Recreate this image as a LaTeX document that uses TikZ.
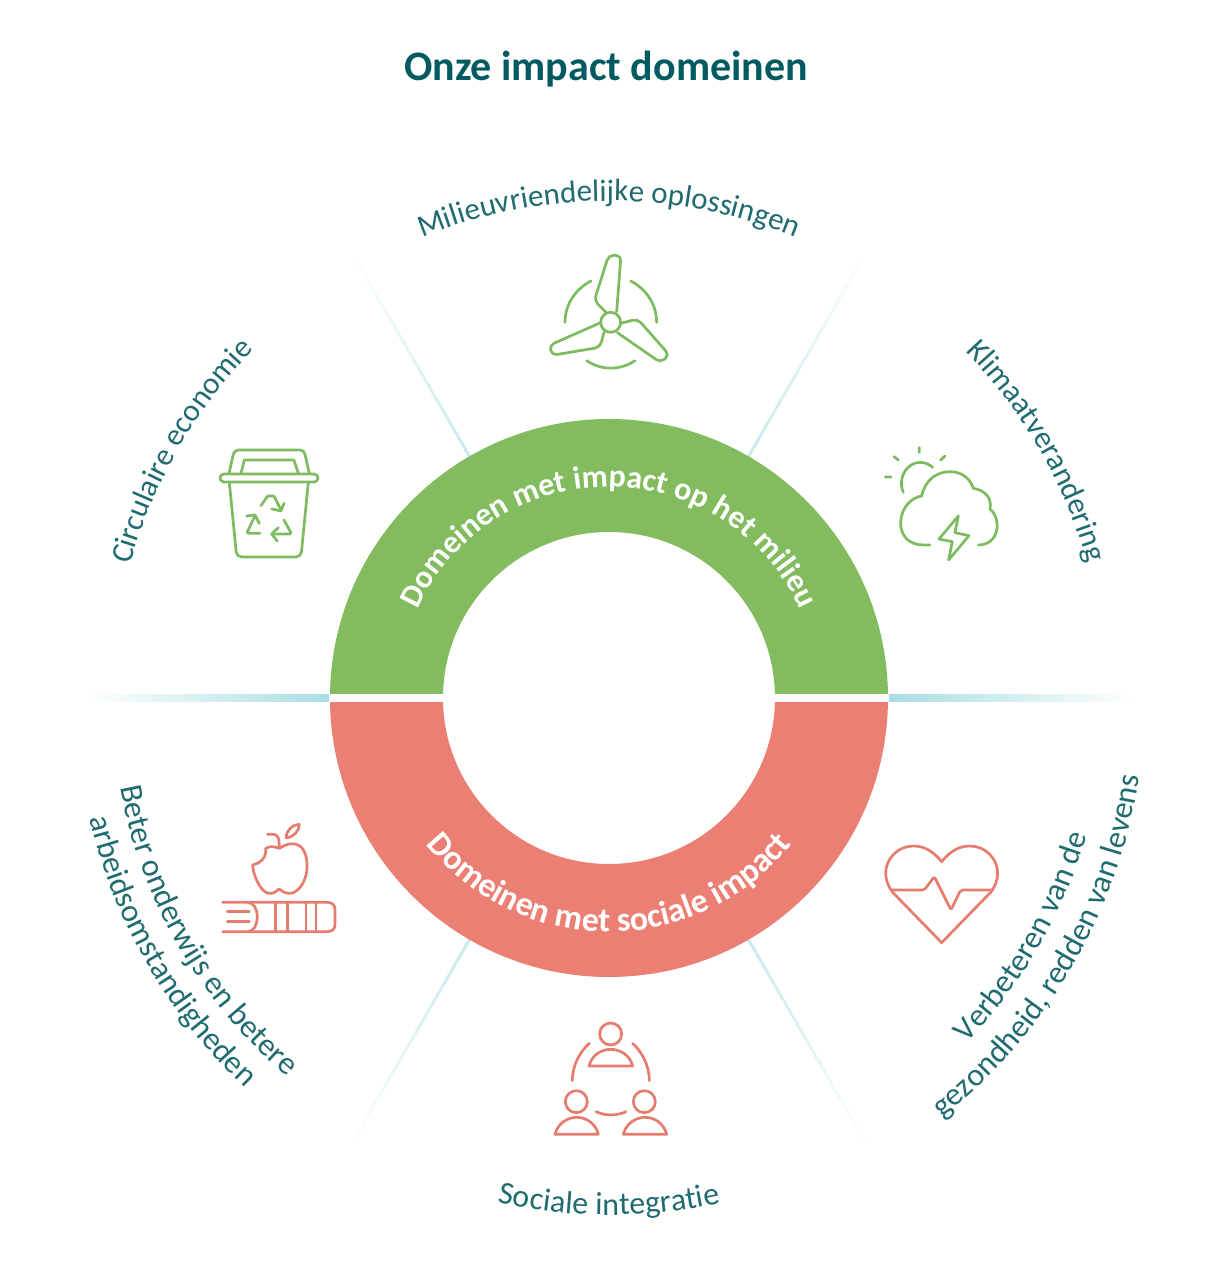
\documentclass[tikz,border=0pt]{standalone}
\usepackage{fontspec}
\usepackage{xcolor}
\setmainfont{Carlito}
\usetikzlibrary{decorations.text}

\definecolor{titleteal}{HTML}{005A5F}
\definecolor{labelteal}{HTML}{1F6B70}
\definecolor{ringgreen}{HTML}{82BC5F}
\definecolor{ringred}{HTML}{EC7F73}
\definecolor{icongreen}{HTML}{7DBB60}
\definecolor{iconred}{HTML}{E67C6E}
\definecolor{spoke}{HTML}{A9DEE0}
\newcommand{\labelfont}[1]{\fontsize{#1}{#1}\selectfont\color{labelteal}}
\newcommand{\ringfont}[1]{\fontsize{#1}{#1}\selectfont\bfseries\color{white}}

\begin{document}
\begin{tikzpicture}[x=1pt, y=1pt,
    arclabel/.style 2 args={decorate, decoration={text along path, text align=center, text={|\labelfont{#1}|#2}}},
    arcring/.style 2 args={decorate, decoration={text along path, text align=center, text={|\ringfont{#1}|#2}}},
    icn/.style={line width=2.7pt, line cap=round, line join=round, draw=#1},
    greenicon/.style={shift={#1}, x=0.3333pt, y=-0.3333pt, icn=icongreen},
    redicon/.style={shift={#1}, x=0.3333pt, y=-0.3333pt, icn=iconred}]
    \useasboundingbox (-609,-582) rectangle (602,698);

    % spokes
    \foreach \a in {60,120,240,300} {
        \shade[transform canvas={rotate=\a}, left color=spoke!65, right color=white] (279,-1.5) rectangle (520,1.5);
    }
    \shade[left color=spoke, middle color=spoke!70, right color=white] (279,-3.5) rectangle (525,3.5);
    \shade[right color=spoke, middle color=spoke!70, left color=white] (-525,-3.5) rectangle (-279,3.5);

    % ring
    \fill[ringgreen] (0:279) arc[start angle=0, end angle=180, radius=279pt] -- (180:166) arc[start angle=180, end angle=0, radius=166pt] -- cycle;
    \fill[ringred] (0:279) arc[start angle=0, end angle=-180, radius=279pt] -- (180:166) arc[start angle=180, end angle=360, radius=166pt] -- cycle;
    \fill[white] (-280,-4) rectangle (280,4);
    \path[arcring={32}{Domeinen met impact op het milieu}] (170:211) arc[start angle=170, end angle=10, radius=211pt];
    \path[arcring={34}{Domeinen met sociale impact}] (210:234) arc[start angle=210, end angle=330, radius=234pt];

    % title
    \node[font=\fontsize{42}{42}\selectfont\bfseries, text=titleteal] (title) at (-3,629) {Onze impact domeinen};

    % labels
    \path[arclabel={31}{Milieuvriendelijke oplossingen}] (130:497) arc[start angle=130, end angle=50, radius=497pt];
    \path[arclabel={31}{Circulaire economie}] (190:497) arc[start angle=190, end angle=110, radius=497pt];
    \path[arclabel={31}{Klimaatverandering}] (70:497) arc[start angle=70, end angle=-10, radius=497pt];
    \path[arclabel={32}{Sociale integratie}] (230:517) arc[start angle=230, end angle=310, radius=517pt];
    \path[arclabel={32}{Verbeteren van de}] (-70:497) arc[start angle=-70, end angle=10, radius=497pt];
    \path[arclabel={32}{gezondheid, redden van levens}] (-70:536) arc[start angle=-70, end angle=10, radius=536pt];
    \path[arclabel={32}{Beter onderwijs en betere}] (170:497) arc[start angle=170, end angle=250, radius=497pt];
    \path[arclabel={32}{arbeidsomstandigheden}] (170:533) arc[start angle=170, end angle=250, radius=533pt];

    % wind turbine
    \begin{scope}[greenicon={(-79,458)}]
        \draw (242,247) circle (30);
        \draw[rounded corners=5pt] (260,215) -- (273,46) -- (236,46) -- (193,182) -- (228,217);
        \draw[rounded corners=5pt] (212,248) -- (58,316) -- (66,346) -- (210,322) -- (222,277);
        \draw[rounded corners=5pt] (272,250) -- (323,237) -- (418,345) -- (392,368) -- (262,278);
        \draw (105,247) .. controls (105,190) and (140,145) .. (183,123);
        \draw (302,123) .. controls (345,145) and (380,190) .. (380,247);
        \draw (170,362) .. controls (215,392) and (270,392) .. (315,362);
    \end{scope}

    % bin
    \begin{scope}[greenicon={(-409,263)}]
        \draw[rounded corners=3.9pt] (60,117) rectangle (354,141);
        \draw[rounded corners=4pt] (87,115) -- (103,45) -- (312,45) -- (328,115);
        \draw (123,115) -- (133,75) -- (282,75) -- (295,115);
        \draw[rounded corners=5pt] (88,142) -- (110,366) -- (303,366) -- (325,142);
        \draw[rounded corners=1pt] (183,212) -- (203,183) -- (222,183) -- (243,225);
        \draw (215,222) -- (243,228) -- (252,205);
        \draw[rounded corners=2pt] (180,295) -- (140,295) -- (165,243);
        \draw (140,243) -- (165,240) -- (178,265);
        \draw[rounded corners=2pt] (252,255) -- (275,297) -- (218,297);
        \draw (235,278) -- (215,297) -- (232,318);
    \end{scope}

    % cloud
    \begin{scope}[greenicon={(261,263)}]
        \draw (100,172) .. controls (80,125) and (115,82) .. (150,82) .. controls (165,82) and (178,88) .. (188,97);
        \draw (148,38) -- (148,52) (72,65) -- (85,75) (225,63) -- (212,75) (46,126) -- (63,126);
        \draw (180,330) -- (160,330) .. controls (115,330) and (90,300) .. (92,260) .. controls (95,215) and (125,188) .. (155,183) .. controls (165,135) and (200,110) .. (240,110) .. controls (275,110) and (300,130) .. (310,160) .. controls (345,165) and (367,190) .. (360,222) .. controls (395,250) and (390,330) .. (325,330);
        \draw (265,243) -- (207,312) -- (247,320) -- (236,375) -- (297,302) -- (255,293) -- cycle;
    \end{scope}

    % apple and book
    \begin{scope}[redicon={(-399,-117)}]
        \draw (172,58) -- (190,58) .. controls (203,58) and (208,68) .. (208,98);
        \draw (228,68) .. controls (230,45) and (248,28) .. (268,28) .. controls (268,48) and (250,68) .. (228,68);
        \draw (167,100) .. controls (180,92) and (195,95) .. (208,100) .. controls (225,88) and (250,80) .. (268,92) .. controls (290,105) and (296,150) .. (288,180) .. controls (280,215) and (255,238) .. (235,235) .. controls (222,234) and (212,225) .. (207,222) .. controls (200,228) and (190,238) .. (175,235) .. controls (150,230) and (128,175) .. (128,150) .. controls (150,145) and (170,130) .. (167,100);
        \draw (38,262) -- (112,262) .. controls (152,262) and (152,350) .. (112,350) -- (38,350);
        \draw (112,262) -- (350,262) .. controls (368,262) and (375,270) .. (375,285) -- (375,327) .. controls (375,342) and (368,350) .. (350,350) -- (112,350);
        \draw (52,290) -- (118,290) (52,320) -- (118,320);
        \foreach \i in {197,232,288,318} {
            \draw (\i,262) -- (\i,350);
        }
    \end{scope}

    % heart
    \begin{scope}[redicon={(261,-137)}]
        \draw (215,80) .. controls (190,50) and (165,33) .. (130,33) .. controls (85,33) and (47,70) .. (47,115) .. controls (47,135) and (55,155) .. (68,172) -- (215,323) -- (362,172) .. controls (375,155) and (383,135) .. (383,115) .. controls (383,70) and (345,33) .. (300,33) .. controls (265,33) and (240,50) .. (215,80) -- cycle;
        \draw[rounded corners=2pt] (62,165) -- (163,165) -- (193,125) -- (243,225) -- (272,165) -- (368,165);
    \end{scope}

    % people
    \begin{scope}[redicon={(-69,-312)}]
        \foreach \cx/\cy in {212/72,109/275,313/275} {
            \draw (\cx,\cy) circle (33);
        }
        \draw (147,168) .. controls (155,135) and (185,118) .. (212,118) .. controls (240,118) and (270,135) .. (278,168) -- cycle;
        \draw (45,373) .. controls (53,340) and (83,322) .. (110,322) .. controls (138,322) and (167,340) .. (175,373) -- cycle;
        \draw (250,373) .. controls (258,340) and (288,322) .. (315,322) .. controls (343,322) and (372,340) .. (380,373) -- cycle;
        \draw (97,212) .. controls (97,165) and (120,125) .. (148,100);
        \draw (278,100) .. controls (305,125) and (328,165) .. (328,212);
        \draw (168,305) .. controls (195,318) and (230,318) .. (258,305);
    \end{scope}
\end{tikzpicture}
\end{document}
